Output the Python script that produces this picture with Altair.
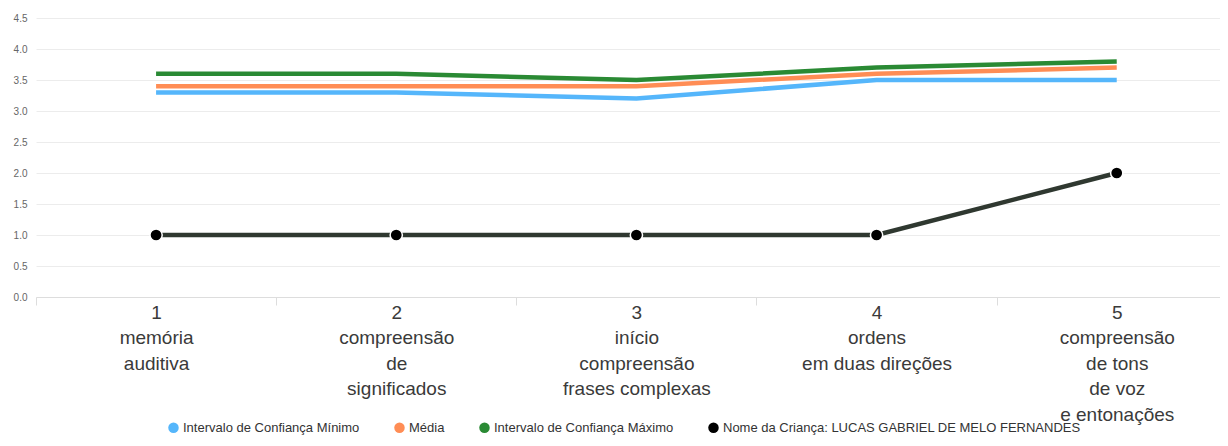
import json
import altair as alt
import pandas as pd

# ---- data ----
categories = [1, 2, 3, 4, 5]
cat_labels = [
    ["1", "memória", "auditiva"],
    ["2", "compreensão", "de", "significados"],
    ["3", "início", "compreensão", "frases complexas"],
    ["4", "ordens", "em duas direções"],
    ["5", "compreensão", "de tons", "de voz", "e entonações"],
]
series_names = [
    "Intervalo de Confiança Mínimo",
    "Média",
    "Intervalo de Confiança Máximo",
    "Nome da Criança: LUCAS GABRIEL DE MELO FERNANDES",
]
series_keys = ["ic_min", "media", "ic_max", "crianca"]
ic_min = [3.3, 3.3, 3.2, 3.5, 3.5]
media = [3.4, 3.4, 3.4, 3.6, 3.7]
ic_max = [3.6, 3.6, 3.5, 3.7, 3.8]
crianca = [1.0, 1.0, 1.0, 1.0, 2.0]
y_ticks = [0, 0.5, 1, 1.5, 2, 2.5, 3, 3.5, 4, 4.5]

line_colors = ["#55b6fb", "#ff8d55", "#2a8a34", "#2f3830"]
legend_colors = ["#55b6fb", "#ff8d55", "#2a8a34", "#000000"]

rows = []
for i, vals in enumerate([ic_min, media, ic_max, crianca]):
    for c, v in zip(categories, vals):
        rows.append({"cat": c, "series": series_names[i], "key": series_keys[i],
                     "value": v, "order": i})
df = pd.DataFrame(rows)

FONT = "Arial, Liberation Sans, sans-serif"

label_arr = json.dumps(cat_labels, ensure_ascii=False)
label_expr = f"datum.value % 1 === 0 ? {label_arr}[datum.value - 1] : ''"

x_enc = alt.X(
    "cat:Q",
    scale=alt.Scale(domain=[0.5, 5.43], nice=False, zero=False),
    axis=alt.Axis(
        title=None,
        values=[0.5, 1, 1.5, 2, 2.5, 3, 3.5, 4, 4.5, 5],
        labelExpr=label_expr,
        labelOverlap=False,
        labelBound=False,
        labelFlush=False,
        labelFont=FONT,
        labelFontSize=19,
        labelColor="#3a3a3a",
        labelLineHeight=25.5,
        labelPadding=-2,
        tickSize=8,
        tickColor="#dddddd",
        tickOpacity={"condition": {"test": "datum.value % 1 === 0", "value": 0}, "value": 1},
        domainColor="#dddddd",
        grid=False,
    ),
)

y_enc = alt.Y(
    "value:Q",
    scale=alt.Scale(domain=[0, 4.5], nice=False),
    axis=alt.Axis(
        title=None,
        values=y_ticks,
        format=".1f",
        labelFont=FONT,
        labelFontSize=10,
        labelColor="#666666",
        labelPadding=9,
        ticks=False,
        domain=False,
        grid=True,
        gridColor="#ececec",
    ),
)

lines = alt.Chart(df).mark_line(strokeWidth=4.5).encode(
    x=x_enc,
    y=y_enc,
    stroke=alt.Stroke(
        "key:N",
        scale=alt.Scale(domain=series_keys, range=line_colors),
        legend=None,
    ),
    detail="key:N",
    order="order:Q",
)

points = alt.Chart(df).transform_filter(
    alt.datum.key == "crianca"
).mark_circle(size=150, stroke="white", strokeWidth=1.5, opacity=1).encode(
    x=x_enc,
    y=y_enc,
    fill=alt.Fill(
        "series:N",
        scale=alt.Scale(domain=series_names, range=legend_colors),
        legend=alt.Legend(
            title=None,
            orient="none",
            direction="horizontal",
            columns=4,
            legendX=131,
            legendY=403,
            symbolType="circle",
            symbolSize=110,
            symbolStrokeWidth=0,
            labelFont=FONT,
            labelFontSize=13,
            labelColor="#333333",
            labelOffset=3,
            labelLimit=600,
            columnPadding=33,
        ),
    ),
)

chart = alt.layer(lines, points).properties(
    width=1184,
    height=279,
    autosize=alt.AutoSizeParams(type="none"),
    padding={"left": 28, "top": 10, "right": 0, "bottom": 140},
).configure_view(stroke=None)

chart.save("out.html", embed_options={"renderer": "svg", "actions": False})
